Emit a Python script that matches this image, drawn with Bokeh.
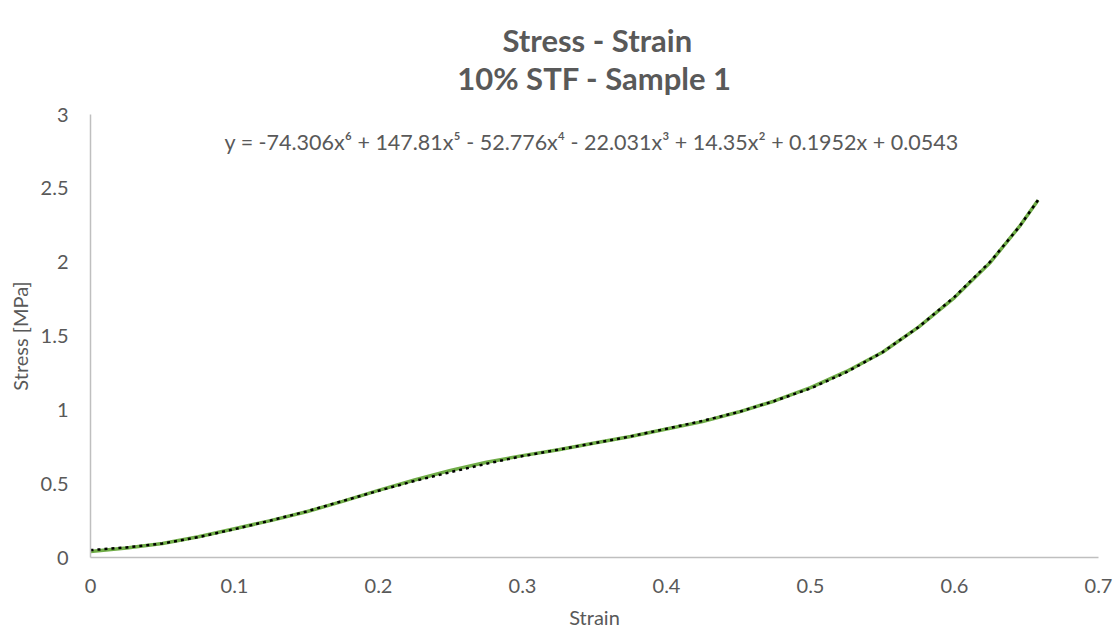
from bokeh.plotting import figure
from bokeh.models import Title, Label, FixedTicker, Range1d
from bokeh.embed import file_html
from bokeh.resources import INLINE

# Data
strain = [0.0, 0.025, 0.05, 0.075, 0.1, 0.125, 0.15, 0.175, 0.2, 0.225, 0.25, 0.275,
          0.3, 0.325, 0.35, 0.375, 0.4, 0.425, 0.45, 0.475, 0.5, 0.525, 0.55, 0.575,
          0.6, 0.625, 0.645, 0.658]
stress = [0.040, 0.065, 0.095, 0.140, 0.195, 0.250, 0.310, 0.380, 0.455, 0.525, 0.590, 0.645,
          0.690, 0.730, 0.775, 0.820, 0.870, 0.920, 0.985, 1.060, 1.150, 1.260, 1.390, 1.560,
          1.760, 2.000, 2.240, 2.420]
trend = [0.050, 0.068, 0.095, 0.138, 0.192, 0.250, 0.312, 0.382, 0.452, 0.518, 0.578, 0.635,
         0.687, 0.730, 0.774, 0.820, 0.872, 0.925, 0.985, 1.060, 1.145, 1.255, 1.390, 1.560,
         1.765, 2.005, 2.240, 2.420]

x_ticks = [0, 0.1, 0.2, 0.3, 0.4, 0.5, 0.6, 0.7]
x_tick_labels = ["0", "0.1", "0.2", "0.3", "0.4", "0.5", "0.6", "0.7"]
y_ticks = [0, 0.5, 1, 1.5, 2, 2.5, 3]
y_tick_labels = ["0", "0.5", "1", "1.5", "2", "2.5", "3"]

title_1 = "Stress - Strain"
title_2 = "10% STF - Sample 1"
equation = "y = -74.306x⁶ + 147.81x⁵ - 52.776x⁴ - 22.031x³ + 14.35x² + 0.1952x + 0.0543"

FONT = "Lato"
GREY = "#595959"

p = figure(width=1119, height=632, output_backend="svg", toolbar_location=None,
           x_range=Range1d(0, 0.7), y_range=Range1d(0, 3), title=None,
           min_border_left=90, min_border_right=21, min_border_top=4, min_border_bottom=75)
p.outline_line_color = None
p.xgrid.visible = False
p.ygrid.visible = False
p.background_fill_color = "white"
p.border_fill_color = "white"

# two-line title; lines of a multi-line title are left-aligned, so the shorter
# first line is padded with no-break spaces to sit centred over the second
pad = "\u00a0" * 6
p.add_layout(Title(text=pad + title_1 + "\n" + title_2, align="center", offset=-37,
                   text_font=FONT, text_font_size="31px", text_font_style="bold",
                   text_color=GREY, text_line_height=1.0, standoff=36), "above")

p.line(strain, stress, line_color="#70AD47", line_width=3.5)
p.line(strain, trend, line_color="black", line_width=2.5, line_dash="3 4")

for ax, ticks, labels in ((p.xaxis[0], x_ticks, x_tick_labels), (p.yaxis[0], y_ticks, y_tick_labels)):
    ax.ticker = FixedTicker(ticks=ticks)
    ax.major_label_overrides = {t: l for t, l in zip(ticks, labels)}
    ax.major_tick_line_color = None
    ax.minor_tick_line_color = None
    ax.axis_line_color = "#BFBFBF"
    ax.axis_line_width = 1.5
    ax.major_label_text_font = FONT
    ax.major_label_text_font_size = "20px"
    ax.major_label_text_color = GREY
    ax.axis_label_text_font = FONT
    ax.axis_label_text_font_size = "20px"
    ax.axis_label_text_font_style = "normal"
    ax.axis_label_text_color = GREY

p.xaxis.axis_label = "Strain"
p.yaxis.axis_label = "Stress [MPa]"
p.xaxis.major_label_standoff = 15
p.xaxis.axis_label_standoff = 9
p.yaxis.major_label_standoff = 16
p.yaxis.axis_label_standoff = 6

p.add_layout(Label(x=0.348, y=2.816, text=equation, text_align="center", text_baseline="middle",
                   text_font=FONT, text_font_size="21.5px", text_color=GREY))

open("out.html", "w").write(file_html(p, INLINE))
